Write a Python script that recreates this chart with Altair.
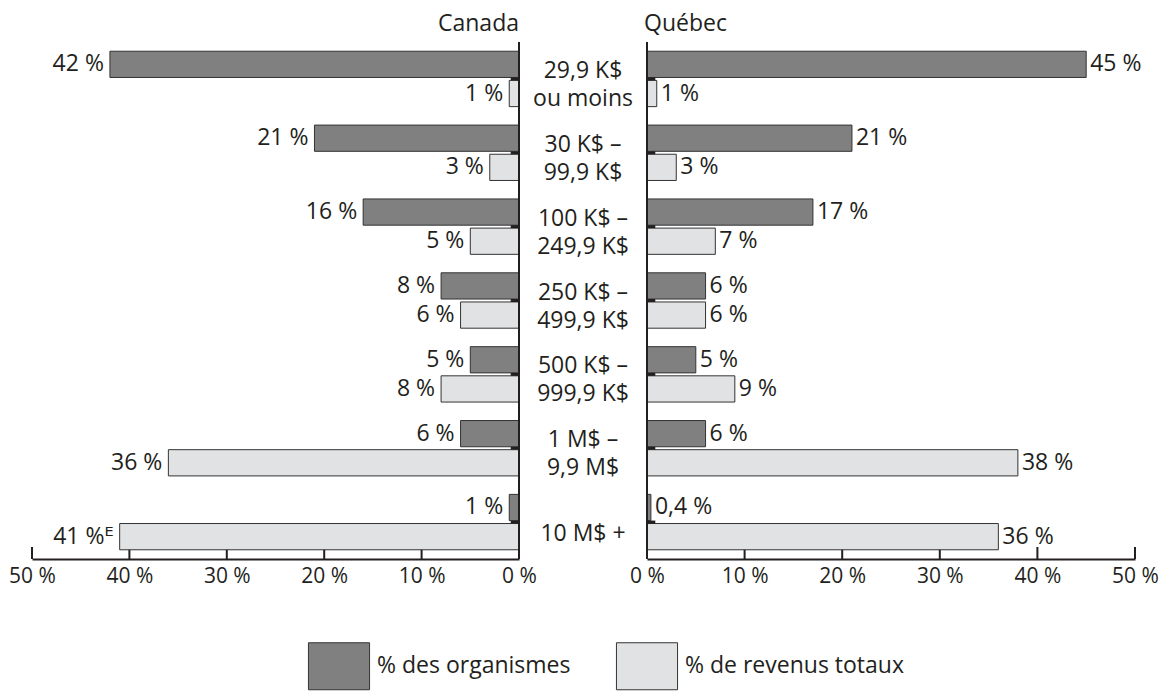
import altair as alt
import pandas as pd

categories = ["29,9 K$ ou moins", "30 K$ – 99,9 K$", "100 K$ – 249,9 K$",
              "250 K$ – 499,9 K$", "500 K$ – 999,9 K$", "1 M$ – 9,9 M$", "10 M$ +"]
cat_text = ["29,9 K$\nou moins", "30 K$ –\n99,9 K$", "100 K$ –\n249,9 K$",
            "250 K$ –\n499,9 K$", "500 K$ –\n999,9 K$", "1 M$ –\n9,9 M$", "10 M$ +"]
series = ["% des organismes", "% de revenus totaux"]
canada_org = [42, 21, 16, 8, 5, 6, 1]
canada_rev = [1, 3, 5, 6, 8, 36, 41]
canada_rev_notes = ["", "", "", "", "", "", "E"]
quebec_org = [45, 21, 17, 6, 5, 6, 0.4]
quebec_rev = [1, 3, 7, 6, 9, 38, 36]
x_ticks = [0, 10, 20, 30, 40, 50]
regions = ["Canada", "Québec"]


def fmt(v, note=""):
    s = f"{v:g}".replace(".", ",") + " %"
    return s + ("ᴱ" if note else "")


rows = []
for i, c in enumerate(categories):
    rows.append(dict(cat=c, series=series[0], region=regions[0], value=canada_org[i], label=fmt(canada_org[i])))
    rows.append(dict(cat=c, series=series[1], region=regions[0], value=canada_rev[i],
                     label=fmt(canada_rev[i], canada_rev_notes[i])))
    rows.append(dict(cat=c, series=series[0], region=regions[1], value=quebec_org[i], label=fmt(quebec_org[i])))
    rows.append(dict(cat=c, series=series[1], region=regions[1], value=quebec_rev[i], label=fmt(quebec_rev[i])))
df = pd.DataFrame(rows)

H = 517
FONT = "'Open Sans', 'DejaVu Sans', sans-serif"
FS = 23
AXFS = 21
TXT = "#231f20"

color = alt.Color(
    "series:N",
    sort=series,
    scale=alt.Scale(domain=series, range=["#808080", "#e1e2e3"]),
    legend=alt.Legend(
        orient="none", legendX=283, legendY=600, direction="horizontal", title=None,
        symbolType="M-1.3,-1H1.3V1H-1.3Z", symbolSize=2209, symbolStrokeColor="#333333",
        symbolStrokeWidth=1, symbolOpacity=1, labelFontSize=FS, labelFont=FONT, labelColor=TXT,
        labelOffset=14, columnPadding=43, padding=0, labelLimit=0,
    ),
)

yenc = alt.Y("cat:N", sort=categories, axis=None,
             scale=alt.Scale(paddingInner=0.25, paddingOuter=0.125))
yoff = alt.YOffset("series:N", sort=series, scale=alt.Scale(paddingInner=0.1, paddingOuter=0))


def panel(region, reverse, w):
    xs = alt.Scale(domain=[0, 50], reverse=reverse, nice=False, zero=True)
    axis = alt.Axis(values=x_ticks, labelExpr="datum.value + ' %'", tickSize=0, domainWidth=2,
                    domainColor=TXT, labelFontSize=AXFS, labelFont=FONT, labelColor=TXT,
                    labelPadding=6, grid=False, title=None, labelFlush=False, orient="bottom")
    sub = df[df.region == region]
    ticks = alt.Chart(pd.DataFrame({"t": x_ticks})).mark_rule(color=TXT, strokeWidth=2).encode(
        x=alt.X("t:Q", scale=xs, axis=axis), y=alt.value(H), y2=alt.value(H - 12))
    bars = alt.Chart(sub).mark_bar(stroke="#333333", strokeWidth=1, opacity=1).encode(
        x=alt.X("value:Q", scale=xs, axis=axis), y=yenc, yOffset=yoff, color=color)
    vline = alt.Chart(pd.DataFrame({"t": [0]})).mark_rule(color=TXT, strokeWidth=2).encode(
        x=alt.X("t:Q", scale=xs, axis=axis), y=alt.value(0), y2=alt.value(H))
    cticks = alt.Chart(pd.DataFrame({"cat": categories, "a": [0] * 7, "b": [0.85] * 7})).mark_rule(
        color=TXT, strokeWidth=3).encode(
        y=yenc, x=alt.X("a:Q", scale=xs, axis=axis), x2="b:Q")
    labels = alt.Chart(sub).mark_text(
        align="right" if reverse else "left", dx=-6 if reverse else 4, baseline="middle",
        font=FONT, fontSize=FS, color=TXT).encode(
        x=alt.X("value:Q", scale=xs, axis=axis), y=yenc, yOffset=yoff, text="label:N")
    return alt.layer(ticks, bars, vline, cticks, labels).properties(
        width=w, height=H,
        title=alt.TitleParams(region, anchor="end" if reverse else "start", frame="group",
                              fontSize=FS, font=FONT, fontWeight="normal", color=TXT, offset=5,
                              dx=0 if reverse else -3),
    )


left = panel(regions[0], True, 487)
right = panel(regions[1], False, 488)

mid_df = pd.DataFrame({"cat": categories, "txt": cat_text,
                       "n": [t.count("\n") + 1 for t in cat_text]})
mid_base = alt.Chart(mid_df)
mid_two = mid_base.transform_filter("datum.n == 2").mark_text(
    lineBreak="\n", lineHeight=28, fontSize=FS, font=FONT, color=TXT, dy=-8,
    align="center", baseline="middle").encode(y=yenc, x=alt.value(64), text="txt:N")
mid_one = mid_base.transform_filter("datum.n == 1").mark_text(
    fontSize=FS, font=FONT, color=TXT, dy=12,
    align="center", baseline="middle").encode(y=yenc, x=alt.value(64), text="txt:N")
mid = alt.layer(mid_two, mid_one).properties(width=128, height=H)

chart = alt.hconcat(left, mid, right, spacing=0, bounds="flush").configure_view(
    stroke=None).properties(padding={"left": 0, "top": 5, "right": 0, "bottom": 0})

chart.save("out.html", embed_options={"renderer": "svg", "actions": False})
